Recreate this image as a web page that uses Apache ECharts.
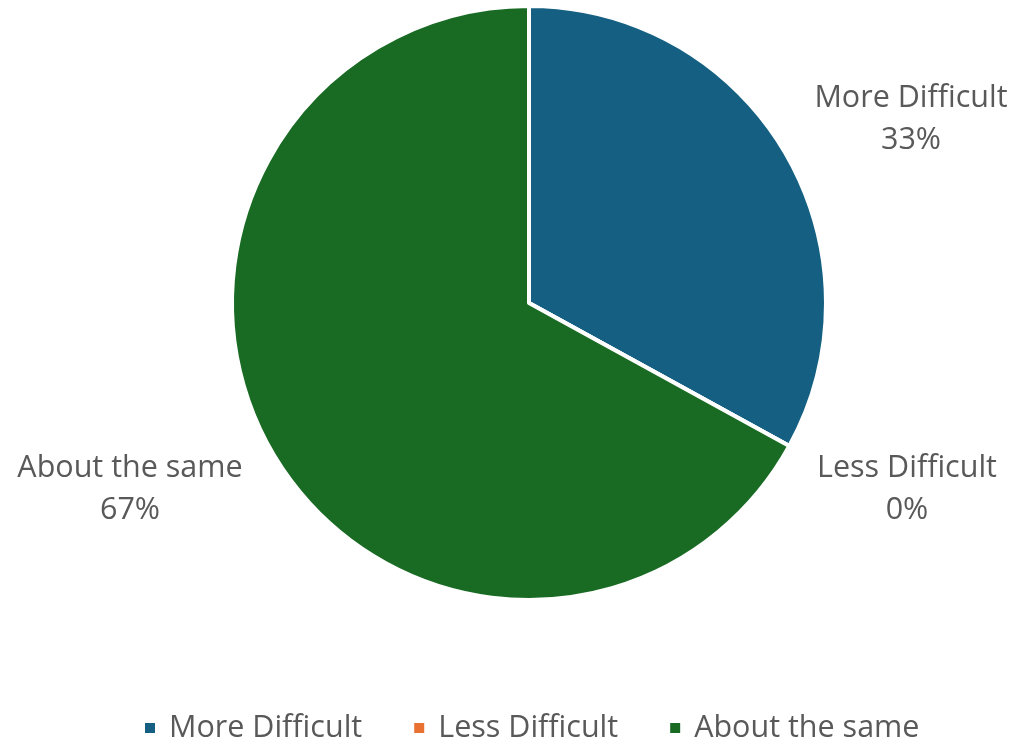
<!DOCTYPE html>
<html>
<head>
<meta charset="utf-8">
<script src="https://cdn.jsdelivr.net/npm/echarts@6/dist/echarts.min.js"></script>
<style>
  html, body { margin: 0; padding: 0; background: #ffffff; }
  #chart { width: 1017px; height: 742px; }
</style>
</head>
<body>
<div id="chart"></div>
<script>
// Survey answers, share of responses in percent
const categories = ['More Difficult', 'Less Difficult', 'About the same'];
const shares = [33, 0, 67];
const colors = ['#156082', '#E97132', '#196B24'];

// Where each slice's label sits (x, y of the two-line text block centre)
const labelSpots = [[911, 119], [907, 489], [130, 489]];

const chart = echarts.init(document.getElementById('chart'));
const FONT = 'Open Sans';

chart.setOption({
  backgroundColor: '#ffffff',
  animation: false,
  legend: {
    top: 711,
    left: 143,
    padding: 0,
    itemWidth: 12,
    itemHeight: 12,
    itemGap: 50,
    icon: 'rect',
    textStyle: { fontFamily: FONT, fontSize: 30.5, lineHeight: 34, color: '#595959', padding: [0, 0, 0, 8] },
    data: categories
  },
  series: [{
    type: 'pie',
    center: [529, 303],
    radius: [0, 297],
    startAngle: 90,
    clockwise: true,
    avoidLabelOverlap: false,
    itemStyle: { borderColor: '#ffffff', borderWidth: 4 },
    label: {
      show: true,
      position: 'outside',
      formatter: p => p.name + '\n' + p.value + '%',
      fontFamily: FONT,
      fontSize: 30.5,
      lineHeight: 42,
      color: '#595959',
      align: 'center'
    },
    labelLine: { show: false },
    labelLayout: params => ({
      x: labelSpots[params.dataIndex][0],
      y: labelSpots[params.dataIndex][1],
      align: 'center',
      verticalAlign: 'middle'
    }),
    emphasis: { disabled: true },
    data: categories.map((name, i) => ({
      name: name,
      value: shares[i],
      itemStyle: { color: colors[i] }
    }))
  }]
});
</script>
</body>
</html>
